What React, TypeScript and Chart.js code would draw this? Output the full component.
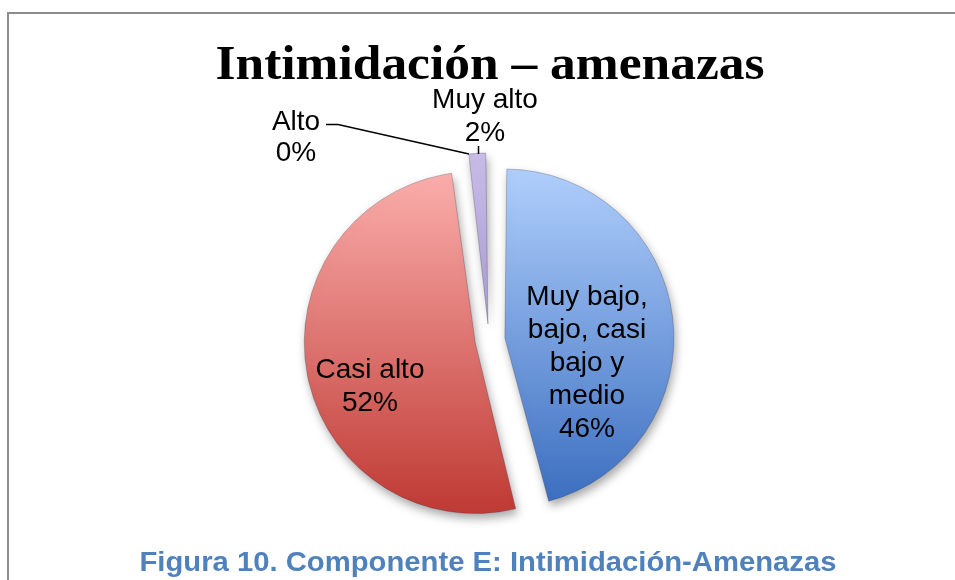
import { useEffect, useRef } from 'react';
import { Chart, registerables } from 'chart.js';

Chart.register(...registerables);

// ---- data ----
const categories = ['Muy bajo, bajo, casi bajo y medio', 'Casi alto', 'Alto', 'Muy alto'];
const values = [46, 52, 0, 2];
const labelLines = [['Muy bajo,', 'bajo, casi', 'bajo y', 'medio'], ['Casi alto'], ['Alto'], ['Muy alto']];
const chartTitle = 'Intimidación – amenazas';
const caption = 'Figura 10. Componente E: Intimidación-Amenazas';

// ---- styles ----
const topColors = ['#b0cffc', '#fbaeac', '#9bbb59', '#c9bce8'];
const bottomColors = ['#3a6dbf', '#bf3a34', '#9bbb59', '#8f7cc0'];
const sliceOffsets = [64, 56, 0, 64];
const RADIUS = 157;

export default function App() {
  const ref = useRef<HTMLCanvasElement>(null);

  useEffect(() => {
    const canvas = ref.current!;
    const total = values.reduce((a, b) => a + b, 0);
    const pct = (v: number) => `${Math.round((v / total) * 100)}%`;

    const decor = {
      id: 'decor',
      beforeDatasetsDraw(chart: any) {
        const ctx = chart.ctx;
        ctx.save();
        ctx.shadowColor = 'rgba(0,0,0,0.35)';
        ctx.shadowBlur = 10;
        ctx.shadowOffsetX = 2;
        ctx.shadowOffsetY = 5;
      },
      afterDatasetsDraw(chart: any) {
        chart.ctx.restore();
      },
      afterDraw(chart: any) {
        const ctx: CanvasRenderingContext2D = chart.ctx;
        ctx.save();
        // frame
        ctx.strokeStyle = '#8c8c8c';
        ctx.lineWidth = 2;
        ctx.beginPath();
        ctx.moveTo(8, 585);
        ctx.lineTo(8, 13);
        ctx.lineTo(960, 13);
        ctx.stroke();

        // title
        ctx.fillStyle = '#000';
        ctx.textAlign = 'center';
        ctx.textBaseline = 'alphabetic';
        ctx.font = 'bold 48px "Liberation Serif"';
        let w = ctx.measureText(chartTitle).width;
        ctx.save();
        ctx.translate(490, 79);
        ctx.scale(549 / w, 1);
        ctx.fillText(chartTitle, 0, 0);
        ctx.restore();

        // caption
        ctx.fillStyle = '#4f81bd';
        ctx.font = 'bold 28px "Liberation Sans"';
        w = ctx.measureText(caption).width;
        ctx.save();
        ctx.translate(488, 571);
        ctx.scale(697 / w, 1);
        ctx.fillText(caption, 0, 0);
        ctx.restore();

        // data labels
        ctx.fillStyle = '#000';
        ctx.font = '28px "Liberation Sans"';
        ctx.textBaseline = 'middle';
        const drawLabel = (i: number, x: number, y: number, lh: number) => {
          const lines = [...labelLines[i], pct(values[i])];
          lines.forEach((t, k) => ctx.fillText(t, x, y + k * lh));
        };
        drawLabel(0, 587, 297, 33);
        drawLabel(1, 370, 370, 33);
        drawLabel(2, 296, 122, 31);
        drawLabel(3, 485, 100, 33);

        // leader lines
        ctx.strokeStyle = '#000';
        ctx.lineWidth = 1.5;
        ctx.beginPath();
        ctx.moveTo(326, 124.5);
        ctx.lineTo(338, 124.5);
        ctx.lineTo(469, 154);
        ctx.stroke();
        ctx.beginPath();
        ctx.moveTo(478.5, 146);
        ctx.lineTo(478.5, 154);
        ctx.stroke();
        ctx.restore();
      },
    };

    const chart = new Chart(canvas, {
      type: 'pie',
      data: {
        labels: categories,
        datasets: [
          {
            data: values,
            backgroundColor: (c: any) => {
              const { ctx, chartArea } = c.chart;
              const i = c.dataIndex;
              if (!chartArea) return topColors[i];
              const cy = (chartArea.top + chartArea.bottom) / 2;
              const g = ctx.createLinearGradient(0, cy - 170, 0, cy + 170);
              g.addColorStop(0, topColors[i]);
              g.addColorStop(1, bottomColors[i]);
              return g;
            },
            borderColor: 'rgba(40,40,60,0.25)',
            borderWidth: 1,
            offset: sliceOffsets,
          },
        ],
      },
      options: {
        responsive: false,
        animation: false,
        radius: RADIUS,
        layout: { padding: { left: 23, right: 0, top: 110, bottom: 10 } },
        plugins: {
          legend: { display: false },
          title: { display: false },
          tooltip: { enabled: false },
        },
      } as any,
      plugins: [decor],
    });
    return () => chart.destroy();
  }, []);

  return (
    <div style={{ position: 'fixed', left: 0, top: 0, width: 955, height: 580, background: '#fff' }}>
      <canvas ref={ref} width={955} height={580} style={{ display: 'block', width: 955, height: 580 }} />
    </div>
  );
}
